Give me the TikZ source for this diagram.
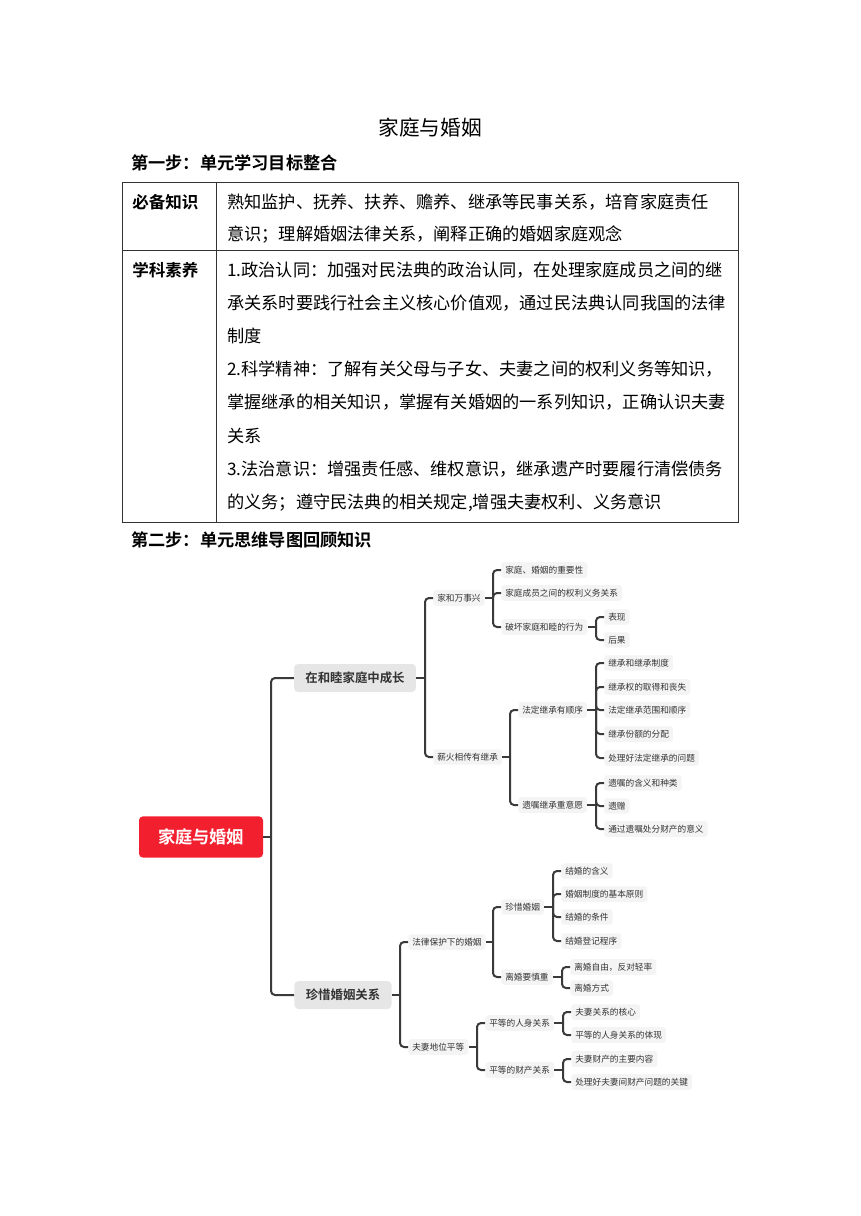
\documentclass[tikz,border=0pt]{standalone}
\usepackage{fontspec}
\setmainfont{Noto Sans CJK SC}[BoldFont={Noto Sans CJK SC Bold}]
\usepackage{xcolor}
\usetikzlibrary{positioning}
\definecolor{rootRed}{HTML}{F2202E}
\definecolor{lineGray}{HTML}{3A3A3A}
\definecolor{boxGray}{HTML}{E6E6E6}
\definecolor{leafGray}{HTML}{F4F4F4}
\definecolor{inkText}{HTML}{333333}

\tikzset{
  conn/.style={lineGray, line width=1.5pt, rounded corners=3pt},
  tableline/.style={black!80, line width=0.7pt},
  bodytext/.style={anchor=west, inner sep=0pt, font=\fontsize{12.9}{15}\selectfont},
  headtext/.style={anchor=west, inner sep=0pt, font=\fontsize{12.9}{15}\selectfont\bfseries},
  rootbox/.style={fill=rootRed, rounded corners=3pt, text=white,
    font=\fontsize{12.9}{15}\selectfont\bfseries, minimum width=93pt, minimum height=31pt},
  mainbox/.style={fill=boxGray, rounded corners=3pt, text=inkText,
    font=\fontsize{9.3}{11}\selectfont\bfseries, inner xsep=8.5pt, minimum height=21pt},
  subbox/.style={anchor=west, fill=leafGray, rounded corners=2pt, text=inkText,
    font=\fontsize{6.5}{8}\selectfont, inner xsep=3pt, inner ysep=2.8pt}
}

\begin{document}
\begin{tikzpicture}[x=0.75pt, y=-0.75pt]
  \useasboundingbox (0,0) rectangle (860,1216);
  % Title and step headings
  \node[font=\fontsize{15.5}{18}\selectfont] (title) at (430,128) {家庭与婚姻};
  \node[headtext] (stepOne) at (131,163) {第一步：单元学习目标整合};
  \node[headtext] (stepTwo) at (131,540) {第二步：单元思维导图回顾知识};
  % Goal table
  \draw[tableline] (122,182) rectangle (738,522);
  \draw[tableline] (216,182) -- (216,522);
  \draw[tableline] (122,250) -- (738,250);
  \node[headtext, font=\fontsize{12.4}{15}\selectfont\bfseries] (knowHead) at (132,202) {必备知识};
  \node[headtext, font=\fontsize{12.4}{15}\selectfont\bfseries] (skillHead) at (132,270) {学科素养};
  \foreach \y/\t [count=\i] in {
      202/{熟知监护、抚养、扶养、赡养、继承等民事关系，培育家庭责任},
      235/{意识；理解婚姻法律关系，阐释正确的婚姻家庭观念},
      270/{1.政治认同：加强对民法典的政治认同，在处理家庭成员之间的继},
      303/{承关系时要践行社会主义核心价值观，通过民法典认同我国的法律},
      336/{制度},
      369/{2.科学精神：了解有关父母与子女、夫妻之间的权利义务等知识，},
      402/{掌握继承的相关知识，掌握有关婚姻的一系列知识，正确认识夫妻},
      436/{关系},
      469/{3.法治意识：增强责任感、维权意识，继承遗产时要履行清偿债务},
      503/{的义务；遵守民法典的相关规定,增强夫妻权利、义务意识}} {
    \node[bodytext] (line\i) at (227,\y) {\t};
  }

  % Mind map: root and main branches
  \node[rootbox] (root) at (201,837) {家庭与婚姻};
  \node[mainbox] (grow) at (355,678) {在和睦家庭中成长};
  \node[mainbox] (cherish) at (343,995) {珍惜婚姻关系};
  \coordinate (jRoot) at (271,837);
  \draw[conn] (root.east) -- (jRoot);
  \foreach \c in {grow, cherish} \draw[conn] (jRoot) |- (\c.west);

  % Branch 1
  \node[subbox] (harmony) at (433,598) {家和万事兴};
  \node[subbox] (pass) at (433,757) {薪火相传有继承};
  \coordinate (jGrow) at (425,678);
  \draw[conn] (grow.east) -- (jGrow);
  \foreach \c in {harmony, pass} \draw[conn] (jGrow) |- (\c.west);

  \node[subbox] (hA) at (501,570) {家庭、婚姻的重要性};
  \node[subbox] (hB) at (501,593) {家庭成员之间的权利义务关系};
  \node[subbox] (hC) at (501,627) {破坏家庭和睦的行为};
  \coordinate (jHarmony) at (493,598);
  \draw[conn] (harmony.east) -- (jHarmony);
  \foreach \c in {hA, hB, hC} \draw[conn] (jHarmony) |- (\c.west);

  \node[subbox] (hCa) at (604,617) {表现};
  \node[subbox] (hCb) at (604,640) {后果};
  \coordinate (jHC) at (596,627);
  \draw[conn] (hC.east) -- (jHC);
  \foreach \c in {hCa, hCb} \draw[conn] (jHC) |- (\c.west);

  \node[subbox] (legal) at (518,710) {法定继承有顺序};
  \node[subbox] (will) at (518,805) {遗嘱继承重意愿};
  \coordinate (jPass) at (510,757);
  \draw[conn] (pass.east) -- (jPass);
  \foreach \c in {legal, will} \draw[conn] (jPass) |- (\c.west);

  \node[subbox] (lA) at (604,663) {继承和继承制度};
  \node[subbox] (lB) at (604,687) {继承权的取得和丧失};
  \node[subbox] (lC) at (604,710) {法定继承范围和顺序};
  \node[subbox] (lD) at (604,734) {继承份额的分配};
  \node[subbox] (lE) at (604,758) {处理好法定继承的问题};
  \coordinate (jLegal) at (596,710);
  \draw[conn] (legal.east) -- (jLegal);
  \foreach \c in {lA, lB, lC, lD, lE} \draw[conn] (jLegal) |- (\c.west);

  \node[subbox] (wA) at (604,783) {遗嘱的含义和种类};
  \node[subbox] (wB) at (604,806) {遗赠};
  \node[subbox] (wC) at (604,829) {通过遗嘱处分财产的意义};
  \coordinate (jWill) at (596,805);
  \draw[conn] (will.east) -- (jWill);
  \foreach \c in {wA, wB, wC} \draw[conn] (jWill) |- (\c.west);

  % Branch 2
  \node[subbox] (lawMar) at (408,942) {法律保护下的婚姻};
  \node[subbox] (equal) at (408,1047) {夫妻地位平等};
  \coordinate (jCherish) at (400,995);
  \draw[conn] (cherish.east) -- (jCherish);
  \foreach \c in {lawMar, equal} \draw[conn] (jCherish) |- (\c.west);

  \node[subbox] (treasure) at (501,907) {珍惜婚姻};
  \node[subbox] (divorce) at (501,977) {离婚要慎重};
  \coordinate (jLawMar) at (493,942);
  \draw[conn] (lawMar.east) -- (jLawMar);
  \foreach \c in {treasure, divorce} \draw[conn] (jLawMar) |- (\c.west);

  \node[subbox] (tA) at (561,871) {结婚的含义};
  \node[subbox] (tB) at (561,894) {婚姻制度的基本原则};
  \node[subbox] (tC) at (561,917) {结婚的条件};
  \node[subbox] (tD) at (561,941) {结婚登记程序};
  \coordinate (jTreasure) at (553,907);
  \draw[conn] (treasure.east) -- (jTreasure);
  \foreach \c in {tA, tB, tC, tD} \draw[conn] (jTreasure) |- (\c.west);

  \node[subbox] (dA) at (570,967) {离婚自由，反对轻率};
  \node[subbox] (dB) at (570,988) {离婚方式};
  \coordinate (jDivorce) at (562,977);
  \draw[conn] (divorce.east) -- (jDivorce);
  \foreach \c in {dA, dB} \draw[conn] (jDivorce) |- (\c.west);

  \node[subbox] (person) at (485,1023) {平等的人身关系};
  \node[subbox] (property) at (485,1070) {平等的财产关系};
  \coordinate (jEqual) at (477,1047);
  \draw[conn] (equal.east) -- (jEqual);
  \foreach \c in {person, property} \draw[conn] (jEqual) |- (\c.west);

  \node[subbox] (pA) at (571,1012) {夫妻关系的核心};
  \node[subbox] (pB) at (571,1035) {平等的人身关系的体现};
  \coordinate (jPerson) at (563,1023);
  \draw[conn] (person.east) -- (jPerson);
  \foreach \c in {pA, pB} \draw[conn] (jPerson) |- (\c.west);

  \node[subbox] (qA) at (571,1059) {夫妻财产的主要内容};
  \node[subbox] (qB) at (571,1082) {处理好夫妻间财产问题的关键};
  \coordinate (jProperty) at (563,1070);
  \draw[conn] (property.east) -- (jProperty);
  \foreach \c in {qA, qB} \draw[conn] (jProperty) |- (\c.west);
\end{tikzpicture}
\end{document}
